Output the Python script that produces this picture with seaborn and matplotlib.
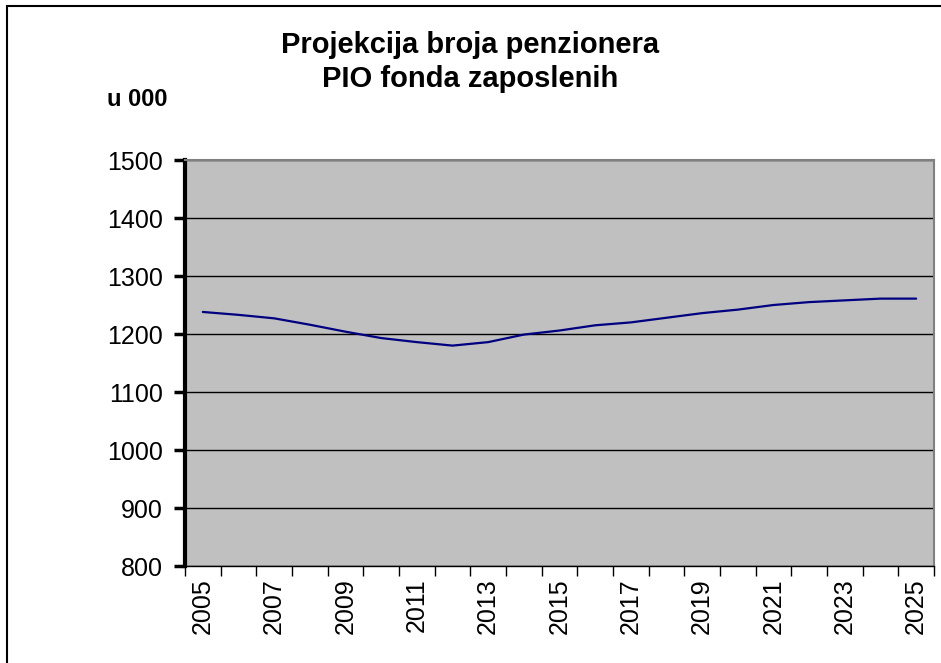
import seaborn as sns
import matplotlib.pyplot as plt
from matplotlib.patches import Rectangle
import pandas as pd
import numpy as np

years = list(range(2005, 2026))
pensioners = [1238, 1233, 1227, 1216, 1204, 1193, 1186, 1180, 1186, 1199, 1206,
              1215, 1220, 1228, 1236, 1242, 1250, 1255, 1258, 1261, 1261]
title_lines = ['Projekcija broja penzionera', 'PIO fonda zaposlenih']
unit_label = 'u 000'

sns.set_style('white')
plt.rcParams['font.family'] = ['Liberation Sans', 'DejaVu Sans']
plt.rcParams['text.color'] = 'black'
plt.rcParams['xtick.color'] = 'black'
plt.rcParams['ytick.color'] = 'black'

df = pd.DataFrame({'year': years, 'value': pensioners})

W, H = 941, 663
fig = plt.figure(figsize=(W / 100, H / 100), dpi=100)
fig.patch.set_facecolor('white')
ax = fig.add_axes([185 / W, 1 - 566 / H, (934 - 185) / W, (566 - 160) / H])
ax.set_facecolor('#C0C0C0')

sns.lineplot(x='year', y='value', data=df, ax=ax, color='#000080', linewidth=1.6)

ax.set_xlim(years[0] - 0.5, years[-1] + 0.5)
ax.set_ylim(800, 1500)
ax.set_yticks(range(800, 1501, 100))
ax.yaxis.grid(True, color='black', linewidth=1)
ax.set_axisbelow(True)

# category labels every second year, tick marks on category boundaries
ax.set_xticks(years[::2])
ax.set_xticklabels([str(y) for y in years[::2]], rotation=90, fontsize=18)
ax.set_xticks(np.arange(years[0] - 0.5, years[-1] + 1), minor=True)
ax.tick_params(axis='x', which='major', bottom=True, length=0, pad=9)
ax.tick_params(axis='x', which='minor', bottom=True, length=7, width=1,
               color='black', direction='out')
ax.tick_params(axis='y', which='major', left=True, length=8, width=2.5,
               color='black', direction='out', labelsize=18, pad=8)
ax.set_xlabel('')
ax.set_ylabel('')

for side in ['top', 'right']:
    ax.spines[side].set_color('#808080')
    ax.spines[side].set_linewidth(1.5)
ax.spines['left'].set_color('black')
ax.spines['left'].set_linewidth(3)
ax.spines['bottom'].set_color('black')
ax.spines['bottom'].set_linewidth(1)

fig.text(470 / W, 1 - 45 / H, title_lines[0], ha='center', va='center',
         fontsize=21, fontweight='bold')
fig.text(470 / W, 1 - 79 / H, title_lines[1], ha='center', va='center',
         fontsize=21, fontweight='bold')
fig.text(107 / W, 1 - 100 / H, unit_label, ha='left', va='center',
         fontsize=17, fontweight='bold')

fig.add_artist(Rectangle((7 / W, -0.02), 1.1, 1 - 6 / H + 0.02,
                         transform=fig.transFigure, fill=False,
                         edgecolor='black', linewidth=1.5))

fig.savefig('out.png', dpi=100)
